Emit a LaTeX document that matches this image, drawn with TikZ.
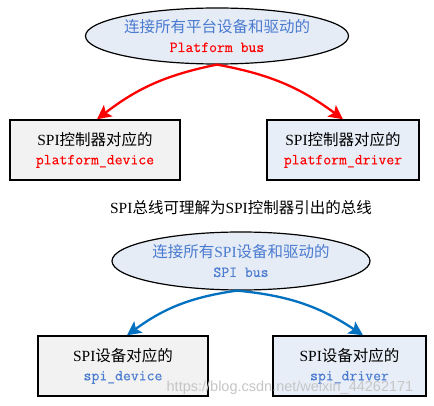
\documentclass[tikz,border=0pt]{standalone}
\usepackage{fontspec}
\setmainfont{Liberation Serif}
\newfontfamily\cjk{Noto Sans CJK SC}
\newfontfamily\lmmono{Latin Modern Mono}[FakeBold=0.25]
\newfontfamily\wmfont{Liberation Sans}
\usetikzlibrary{arrows.meta,shapes.geometric}
\definecolor{tblue}{HTML}{4A7BD0}
\definecolor{tred}{HTML}{FF0000}
\definecolor{ellfill}{HTML}{E6ECF6}
\definecolor{boxgray}{HTML}{F2F2F2}
\definecolor{boxblue}{HTML}{E8EEF8}
\definecolor{arrblue}{HTML}{0070C0}
\newcommand{\mono}[1]{{\fontsize{15.3}{19}\selectfont\lmmono #1}}
\begin{document}
\begin{tikzpicture}[x=1pt,y=-1pt,
  bus/.style={ellipse, draw=black, line width=1.2pt, fill=ellfill, inner sep=0pt,
    minimum width=262pt, minimum height=56pt, align=center,
    font=\fontsize{15.5}{19}\selectfont},
  compbox/.style={draw=black, line width=1.5pt, minimum width=170pt, minimum height=60pt,
    inner sep=0pt, align=center, font=\fontsize{15.5}{19}\selectfont},
  arr/.style={line width=2.3pt, -{Stealth[length=14pt,width=14pt,inset=3pt]}},
  notetext/.style={font=\fontsize{15.5}{19}\selectfont, inner sep=0pt},
  wmark/.style={font=\wmfont\fontsize{14.5}{15}\selectfont, text=gray!45, inner sep=0pt}
]
\useasboundingbox[fill=white] (0,0) rectangle (434,406);

\node[bus] (pbus) at (217,36) {\textcolor{tblue}{\cjk 连接所有平台设备和驱动的}\\\textcolor{tred}{\mono{Platform bus}}};
\node[compbox, fill=boxgray] (pdev) at (95,150) {SPI{\cjk 控制器对应的}\\\textcolor{tred}{\mono{platform\_device}}};
\node[compbox, fill=boxblue, minimum width=152pt] (pdrv) at (343,150) {SPI{\cjk 控制器对应的}\\\textcolor{tred}{\mono{platform\_driver}}};

\node[notetext] (note) at (241,208) {SPI{\cjk 总线可理解为}SPI{\cjk 控制器引出的总线}};

\node[bus, minimum width=258pt, minimum height=58pt] (sbus) at (241,261) {\textcolor{tblue}{{\cjk 连接所有}SPI{\cjk 设备和驱动的}}\\\textcolor{tblue}{\mono{SPI bus}}};
\node[compbox, fill=boxgray] (sdev) at (123,366) {SPI{\cjk 设备对应的}\\\textcolor{tblue}{\mono{spi\_device}}};
\node[compbox, fill=boxblue, minimum width=153pt] (sdrv) at (349.5,366) {SPI{\cjk 设备对应的}\\\textcolor{tblue}{\mono{spi\_driver}}};

\draw[arr, tred] (pbus.south) to[bend right=13] ([xshift=2pt]pdev.north);
\draw[arr, tred] (pbus.south) to[bend left=13] (pdrv.north);
\draw[arr, arrblue] ([xshift=-4pt]sbus.south) to[bend right=14] ([xshift=4pt]sdev.north);
\draw[arr, arrblue] ([xshift=-4pt]sbus.south) to[bend left=14] ([xshift=13.5pt]sdrv.north);

\node[wmark] (wm) at (290,388) {https://blog.csdn.net/weixin\_44262171};
\end{tikzpicture}
\end{document}
